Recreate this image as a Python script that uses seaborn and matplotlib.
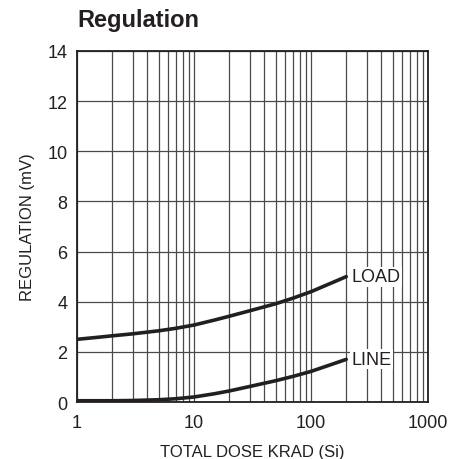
import numpy as np
import pandas as pd
import matplotlib
matplotlib.use("Agg")
import matplotlib.pyplot as plt
import seaborn as sns
from matplotlib.ticker import FixedLocator, FixedFormatter, LogLocator, NullFormatter

# ── Data ───────────────────────────────────────────────────
dose_krad = [1, 1.5, 2, 3, 5, 7, 10, 15, 20, 30, 50, 70, 100, 150, 200]
load_mv   = [2.50, 2.58, 2.64, 2.72, 2.84, 2.94, 3.07, 3.27, 3.42, 3.64, 3.92, 4.14, 4.40, 4.75, 5.00]
line_mv   = [0.05, 0.05, 0.05, 0.06, 0.09, 0.13, 0.20, 0.33, 0.44, 0.62, 0.85, 1.02, 1.22, 1.50, 1.70]
curve_names = ["LOAD", "LINE"]
y_ticks = [0, 2, 4, 6, 8, 10, 12, 14]
x_ticks = [1, 10, 100, 1000]

df = pd.DataFrame({
    "dose": dose_krad * 2,
    "reg": load_mv + line_mv,
    "curve": ["LOAD"] * len(dose_krad) + ["LINE"] * len(dose_krad),
})

sns.set_style("white")
plt.rcParams["font.family"] = ["Liberation Sans", "DejaVu Sans"]

fig = plt.figure(figsize=(4.63, 4.60), dpi=100)
ax = fig.add_axes([77 / 463, 1 - 403 / 460, 351 / 463, 351 / 460])

sns.lineplot(data=df, x="dose", y="reg", hue="curve", hue_order=curve_names,
             palette=["#231f20", "#231f20"], linewidth=2.6, legend=False,
             ax=ax, zorder=3)

ax.set_xscale("log")
ax.set_xlim(1, 1000)
ax.set_ylim(0, 14)
ax.xaxis.set_major_locator(FixedLocator(x_ticks))
ax.xaxis.set_major_formatter(FixedFormatter([str(t) for t in x_ticks]))
ax.xaxis.set_minor_locator(LogLocator(base=10, subs=np.arange(2, 10)))
ax.xaxis.set_minor_formatter(NullFormatter())
ax.set_yticks(y_ticks)

ax.grid(which="major", axis="both", color="#4a4a4a", linewidth=0.9)
ax.grid(which="minor", axis="x", color="#4a4a4a", linewidth=0.9)
ax.tick_params(axis="both", which="both", length=0, labelsize=13, pad=7, colors="#231f20")
ax.tick_params(axis="x", pad=9)
for s in ax.spines.values():
    s.set_color("#231f20")
    s.set_linewidth(1.3)

ax.set_xlabel("TOTAL DOSE KRAD (Si)", fontsize=12, color="#231f20", labelpad=9)
ax.set_ylabel("REGULATION (mV)", fontsize=12, color="#231f20", labelpad=9)

# curve labels just past the last point
for name, vals in zip(curve_names, [load_mv, line_mv]):
    ax.text(dose_krad[-1] * 1.1, vals[-1], name, fontsize=13, color="#231f20",
            va="center", ha="left", zorder=4,
            bbox=dict(facecolor="white", edgecolor="none", pad=1.0))

fig.text(77 / 463, 1 - 21 / 460, "Regulation", fontsize=17, fontweight="bold",
         color="#231f20", va="center", ha="left")

fig.savefig("out.png", dpi=100)
